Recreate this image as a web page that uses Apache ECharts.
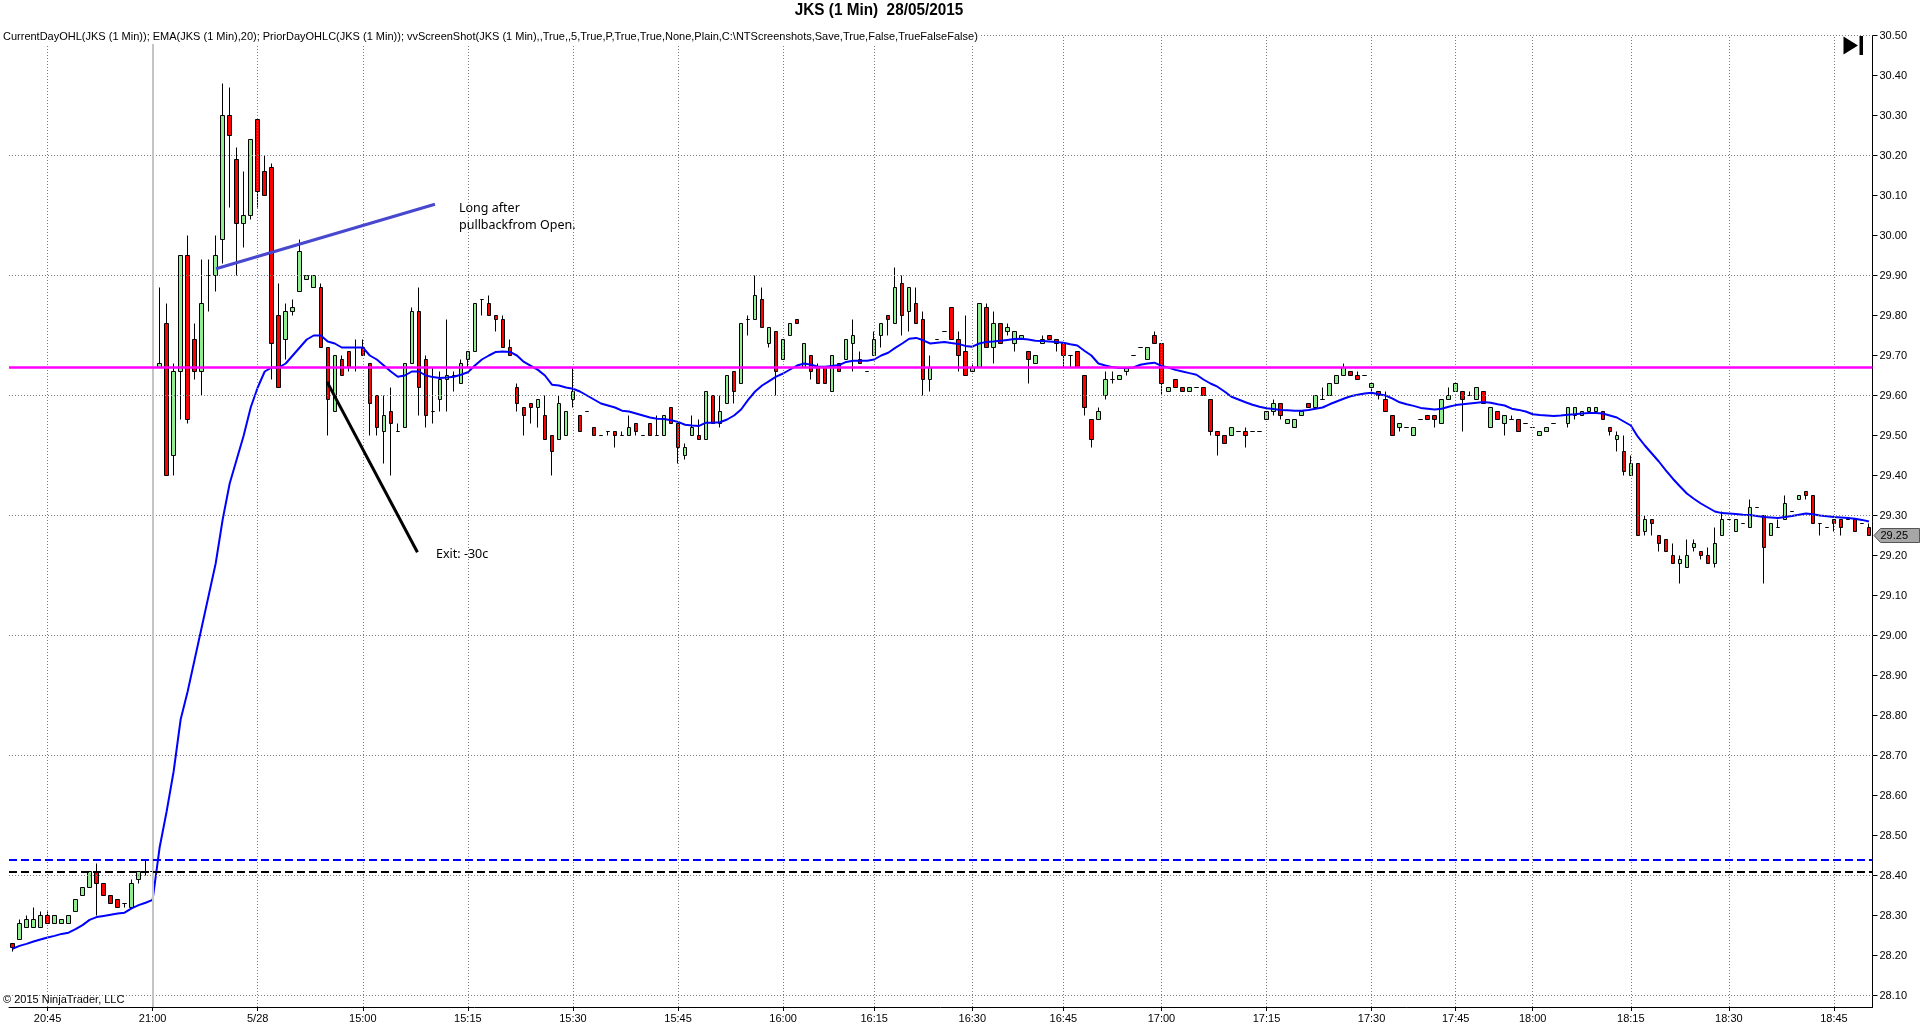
<!DOCTYPE html>
<html><head><meta charset="utf-8">
<script src="https://cdn.jsdelivr.net/npm/echarts@6/dist/echarts.min.js"></script>
<style>html,body{margin:0;padding:0;background:#fff;overflow:hidden}#c{width:1920px;height:1034px}</style>
</head><body><div id="c"></div>
<script>
// ---- categories (one per 1-minute bar) ----
const times = ("20:40 20:41 20:42 20:43 20:44 20:45 20:46 20:47 20:48 20:49 20:50 20:51 20:52 20:53 20:54 20:55 20:56 20:57 20:58 20:59 21:00 " +
"14:31 14:32 14:33 14:34 14:35 14:36 14:37 14:38 14:39 14:40 14:41 14:42 14:43 14:44 14:45 14:46 14:47 14:48 14:49 14:50 14:51 14:52 14:53 14:54 14:55 14:56 14:57 14:58 14:59 " +
"15:00 15:01 15:02 15:03 15:04 15:05 15:06 15:07 15:08 15:09 15:10 15:11 15:12 15:13 15:14 15:15 15:16 15:17 15:18 15:19 15:20 15:21 15:22 15:23 15:24 15:25 15:26 15:27 15:28 15:29 " +
"15:30 15:31 15:32 15:33 15:34 15:35 15:36 15:37 15:38 15:39 15:40 15:41 15:42 15:43 15:44 15:45 15:46 15:47 15:48 15:49 15:50 15:51 15:52 15:53 15:54 15:55 15:56 15:57 15:58 15:59 " +
"16:00 16:01 16:02 16:03 16:05 16:06 16:07 16:08 16:09 16:11 16:12 16:13 16:14 " +
"16:15 16:16 16:17 16:18 16:19 16:20 16:21 16:23 16:24 16:25 16:26 16:27 16:28 16:29 " +
"16:30 16:31 16:32 16:33 16:34 16:36 16:37 16:38 16:39 16:40 16:42 16:43 16:44 " +
"16:45 16:46 16:47 16:48 16:49 16:50 16:51 16:52 16:54 16:55 16:56 16:57 16:58 16:59 " +
"17:00 17:01 17:02 17:03 17:04 17:05 17:06 17:07 17:08 17:09 17:10 17:11 17:12 17:13 17:14 " +
"17:15 17:16 17:17 17:18 17:19 17:20 17:21 17:22 17:23 17:24 17:25 17:26 17:27 17:28 17:29 " +
"17:30 17:31 17:32 17:33 17:35 17:36 17:37 17:39 17:40 17:41 17:43 17:44 " +
"17:45 17:46 17:47 17:49 17:50 17:52 17:53 17:54 17:56 17:58 17:59 " +
"18:00 18:01 18:02 18:03 18:04 18:05 18:06 18:08 18:09 18:10 18:11 18:12 18:13 18:14 " +
"18:15 18:16 18:17 18:18 18:19 18:20 18:21 18:22 18:24 18:25 18:26 18:27 18:28 18:29 " +
"18:30 18:31 18:32 18:33 18:34 18:35 18:36 18:37 18:38 18:39 18:40 18:41 18:42 18:43 18:44 " +
"18:45 18:46 18:47 18:48 18:49 18:50").split(' ');

// ---- OHLC ----
const opens = [
28.23,28.24,28.27,28.27,28.27,28.30,28.28,28.28,28.28,28.31,
28.35,28.37,28.41,28.38,28.35,28.34,28.33,28.32,28.39,28.41,
28.41,29.67,29.78,29.45,29.66,29.95,29.74,29.66,29.90,29.90,
29.99,30.30,30.19,30.03,30.05,30.29,30.16,30.17,29.80,29.74,
29.81,29.86,29.89,29.87,29.87,29.72,29.56,29.69,29.71,29.72,
29.72,29.68,29.60,29.51,29.56,29.51,29.52,29.68,29.81,29.69,
29.56,29.59,29.64,29.65,29.63,29.69,29.71,29.84,29.83,29.80,
29.79,29.72,29.62,29.57,29.58,29.57,29.55,29.50,29.49,29.50,
29.59,29.55,29.56,29.52,29.50,29.51,29.51,29.50,29.50,29.53,
29.50,29.53,29.50,29.50,29.57,29.53,29.45,29.50,29.50,29.49,
29.60,29.53,29.58,29.66,29.63,29.79,29.79,29.84,29.73,29.76,
29.69,29.75,29.79,29.67,29.70,29.67,29.67,29.61,29.68,29.69,
29.73,29.69,29.66,29.70,29.75,29.80,29.78,29.88,29.81,29.83,
29.79,29.64,29.74,29.76,29.82,29.74,29.71,29.66,29.67,29.82,
29.72,29.78,29.76,29.73,29.74,29.71,29.68,29.73,29.75,29.74,
29.73,29.70,29.71,29.65,29.54,29.54,29.60,29.64,29.64,29.66,
29.70,29.72,29.69,29.75,29.73,29.61,29.64,29.62,29.61,29.62,
29.62,29.59,29.51,29.50,29.50,29.51,29.51,29.51,29.51,29.54,
29.56,29.58,29.53,29.52,29.55,29.58,29.57,29.59,29.60,29.63,
29.65,29.66,29.65,29.65,29.62,29.61,29.59,29.55,29.52,29.52,
29.50,29.54,29.55,29.55,29.53,29.59,29.61,29.61,29.60,29.59,
29.61,29.52,29.56,29.53,29.54,29.54,29.53,29.52,29.50,29.51,
29.53,29.55,29.53,29.55,29.55,29.56,29.56,29.56,29.52,29.49,
29.46,29.40,29.43,29.26,29.29,29.25,29.24,29.20,29.18,29.17,
29.22,29.21,29.20,29.18,29.25,29.29,29.26,29.28,29.27,29.32,
29.30,29.25,29.27,29.29,29.31,29.34,29.36,29.35,29.28,29.27,
29.29,29.29,29.29,29.29,29.28,29.27];
const highs = [
28.23,28.29,28.30,28.32,28.31,28.31,28.30,28.29,28.30,28.34,
28.37,28.41,28.43,28.38,28.35,28.34,28.33,28.39,28.41,28.44,
28.42,29.87,29.83,29.68,29.95,30.00,29.78,29.94,29.94,30.00,
30.38,30.37,30.22,30.16,30.24,30.29,30.20,30.18,29.88,29.83,
29.84,29.99,29.90,29.90,29.88,29.72,29.70,29.70,29.71,29.74,
29.74,29.68,29.60,29.60,29.62,29.53,29.68,29.82,29.87,29.70,
29.67,29.66,29.79,29.66,29.69,29.71,29.83,29.84,29.85,29.80,
29.80,29.74,29.63,29.57,29.58,29.59,29.60,29.50,29.60,29.56,
29.67,29.55,29.56,29.52,29.50,29.51,29.51,29.51,29.55,29.53,
29.50,29.53,29.55,29.55,29.57,29.53,29.48,29.55,29.54,29.61,
29.60,29.60,29.65,29.66,29.78,29.80,29.90,29.87,29.77,29.76,
29.74,29.78,29.79,29.73,29.70,29.68,29.67,29.70,29.68,29.74,
29.79,29.71,29.66,29.76,29.78,29.80,29.92,29.90,29.87,29.87,
29.81,29.70,29.74,29.76,29.82,29.76,29.80,29.68,29.83,29.83,
29.81,29.78,29.78,29.76,29.75,29.71,29.70,29.75,29.75,29.74,
29.73,29.70,29.71,29.65,29.54,29.57,29.66,29.66,29.65,29.67,
29.70,29.72,29.72,29.76,29.73,29.62,29.64,29.62,29.62,29.62,
29.62,29.59,29.51,29.50,29.52,29.51,29.52,29.51,29.51,29.56,
29.59,29.58,29.54,29.54,29.56,29.58,29.60,29.62,29.63,29.65,
29.68,29.66,29.66,29.65,29.63,29.61,29.61,29.55,29.53,29.52,
29.52,29.54,29.55,29.55,29.59,29.62,29.63,29.61,29.61,29.62,
29.61,29.57,29.56,29.55,29.55,29.54,29.53,29.52,29.51,29.52,
29.53,29.55,29.57,29.57,29.56,29.57,29.57,29.56,29.52,29.51,
29.50,29.45,29.43,29.30,29.29,29.25,29.24,29.23,29.20,29.24,
29.24,29.21,29.22,29.27,29.31,29.29,29.29,29.28,29.34,29.32,
29.30,29.28,29.29,29.35,29.31,29.35,29.36,29.35,29.28,29.27,
29.29,29.29,29.29,29.29,29.28,29.28];
const lows = [
28.21,28.24,28.27,28.27,28.27,28.28,28.28,28.28,28.28,28.31,
28.35,28.37,28.30,28.35,28.33,28.32,28.32,28.32,28.38,28.40,
28.40,29.67,29.40,29.40,29.54,29.53,29.64,29.60,29.81,29.86,
29.93,30.07,29.90,29.97,30.04,30.07,30.10,29.64,29.62,29.69,
29.80,29.86,29.89,29.87,29.72,29.50,29.56,29.65,29.66,29.66,
29.70,29.50,29.50,29.43,29.40,29.51,29.52,29.68,29.55,29.52,
29.53,29.56,29.56,29.61,29.63,29.67,29.71,29.80,29.80,29.76,
29.72,29.70,29.56,29.50,29.53,29.52,29.49,29.40,29.49,29.50,
29.57,29.51,29.56,29.50,29.50,29.50,29.47,29.50,29.50,29.50,
29.50,29.50,29.50,29.50,29.53,29.43,29.44,29.50,29.49,29.49,
29.53,29.52,29.58,29.58,29.63,29.75,29.79,29.77,29.72,29.60,
29.69,29.75,29.78,29.67,29.64,29.63,29.63,29.61,29.66,29.69,
29.66,29.68,29.66,29.70,29.72,29.75,29.78,29.75,29.76,29.78,
29.60,29.61,29.74,29.76,29.74,29.66,29.65,29.66,29.67,29.72,
29.68,29.73,29.75,29.71,29.74,29.63,29.68,29.73,29.74,29.71,
29.67,29.67,29.67,29.55,29.47,29.54,29.59,29.63,29.64,29.65,
29.70,29.72,29.69,29.73,29.60,29.61,29.62,29.61,29.61,29.62,
29.60,29.50,29.45,29.48,29.50,29.51,29.47,29.51,29.51,29.54,
29.55,29.54,29.53,29.52,29.55,29.57,29.57,29.59,29.60,29.63,
29.65,29.65,29.64,29.65,29.61,29.59,29.56,29.50,29.51,29.52,
29.50,29.54,29.54,29.52,29.53,29.59,29.61,29.51,29.60,29.59,
29.58,29.52,29.54,29.50,29.54,29.51,29.53,29.52,29.50,29.51,
29.53,29.55,29.52,29.54,29.55,29.56,29.56,29.54,29.50,29.46,
29.40,29.40,29.25,29.25,29.25,29.21,29.21,29.18,29.13,29.17,
29.21,29.19,29.18,29.17,29.25,29.29,29.26,29.28,29.27,29.32,
29.13,29.25,29.27,29.29,29.31,29.34,29.34,29.28,29.25,29.27,
29.26,29.25,29.29,29.26,29.28,29.25];
const closes = [
28.22,28.28,28.29,28.29,28.30,28.28,28.30,28.29,28.30,28.34,
28.37,28.41,28.38,28.35,28.33,28.32,28.33,28.38,28.41,28.41,
28.41,29.68,29.40,29.66,29.95,29.54,29.66,29.83,29.90,29.95,
30.30,30.25,30.03,30.05,30.24,30.11,30.10,29.73,29.62,29.81,
29.82,29.96,29.90,29.90,29.72,29.59,29.70,29.65,29.67,29.72,
29.70,29.58,29.52,29.55,29.53,29.51,29.68,29.81,29.62,29.55,
29.56,29.64,29.65,29.65,29.68,29.71,29.83,29.84,29.80,29.79,
29.72,29.70,29.58,29.55,29.57,29.59,29.49,29.46,29.58,29.56,
29.61,29.51,29.56,29.50,29.50,29.51,29.50,29.50,29.52,29.51,
29.50,29.50,29.50,29.55,29.53,29.47,29.47,29.52,29.49,29.61,
29.53,29.56,29.65,29.61,29.78,29.79,29.85,29.77,29.77,29.66,
29.74,29.78,29.78,29.73,29.66,29.63,29.63,29.70,29.66,29.74,
29.75,29.68,29.66,29.74,29.78,29.79,29.87,29.80,29.87,29.78,
29.64,29.67,29.74,29.76,29.74,29.70,29.65,29.67,29.83,29.72,
29.78,29.73,29.77,29.76,29.75,29.69,29.70,29.74,29.74,29.73,
29.70,29.70,29.67,29.57,29.49,29.56,29.64,29.64,29.65,29.67,
29.70,29.72,29.72,29.73,29.63,29.62,29.62,29.61,29.62,29.62,
29.60,29.51,29.50,29.48,29.52,29.51,29.50,29.51,29.51,29.56,
29.58,29.55,29.54,29.54,29.56,29.57,29.60,29.59,29.63,29.65,
29.67,29.65,29.64,29.65,29.63,29.60,29.56,29.50,29.53,29.52,
29.52,29.54,29.54,29.54,29.59,29.60,29.63,29.59,29.60,29.62,
29.58,29.57,29.54,29.55,29.54,29.51,29.53,29.52,29.51,29.52,
29.53,29.55,29.57,29.57,29.56,29.57,29.57,29.54,29.51,29.50,
29.41,29.43,29.25,29.29,29.28,29.23,29.21,29.18,29.19,29.20,
29.23,29.20,29.18,29.23,29.29,29.29,29.29,29.28,29.32,29.32,
29.22,29.28,29.27,29.33,29.31,29.35,29.35,29.28,29.28,29.27,
29.28,29.27,29.29,29.26,29.28,29.25];

// ---- EMA(20) ----
const ema20 = [
28.217,28.224,28.229,28.235,28.240,28.245,28.249,28.254,28.257,28.266,
28.276,28.289,28.296,28.299,28.302,28.305,28.307,28.318,28.326,28.332,
28.339,28.47,28.56,28.66,28.79,28.86,28.94,29.02,29.10,29.18,
29.29,29.38,29.44,29.50,29.57,29.62,29.66,29.67,29.67,29.68,
29.70,29.72,29.74,29.75,29.75,29.735,29.73,29.72,29.72,29.72,
29.72,29.70,29.69,29.675,29.66,29.647,29.65,29.66,29.66,29.65,
29.646,29.644,29.645,29.647,29.652,29.658,29.675,29.69,29.70,29.709,
29.71,29.709,29.70,29.684,29.674,29.664,29.65,29.627,29.625,29.62,
29.617,29.61,29.60,29.59,29.58,29.575,29.57,29.562,29.56,29.555,
29.55,29.545,29.542,29.541,29.538,29.534,29.527,29.525,29.524,29.532,
29.532,29.533,29.54,29.55,29.565,29.589,29.61,29.625,29.636,29.647,
29.655,29.665,29.675,29.680,29.677,29.672,29.672,29.674,29.676,29.684,
29.687,29.687,29.687,29.69,29.70,29.707,29.719,29.73,29.742,29.744,
29.738,29.73,29.732,29.734,29.731,29.729,29.724,29.722,29.73,29.734,
29.735,29.737,29.739,29.741,29.742,29.740,29.737,29.736,29.735,29.734,
29.732,29.728,29.725,29.712,29.70,29.68,29.675,29.671,29.669,29.669,
29.67,29.677,29.68,29.682,29.674,29.670,29.664,29.66,29.656,29.652,
29.64,29.63,29.622,29.61,29.597,29.59,29.583,29.577,29.572,29.568,
29.566,29.564,29.563,29.562,29.562,29.564,29.567,29.57,29.578,29.585,
29.592,29.598,29.602,29.605,29.607,29.603,29.60,29.592,29.583,29.578,
29.574,29.569,29.567,29.565,29.567,29.572,29.576,29.578,29.58,29.582,
29.584,29.582,29.578,29.575,29.567,29.564,29.56,29.553,29.551,29.550,
29.549,29.55,29.552,29.553,29.555,29.556,29.556,29.555,29.55,29.545,
29.535,29.525,29.497,29.475,29.455,29.435,29.413,29.392,29.373,29.355,
29.342,29.33,29.32,29.31,29.306,29.305,29.304,29.302,29.301,29.299,
29.296,29.295,29.294,29.296,29.299,29.302,29.305,29.303,29.30,29.298,
29.296,29.295,29.294,29.292,29.289,29.285];

// ---- axis ticks / reference levels ----
const tickTimes = ['20:45','21:00','14:45','15:00','15:15','15:30','15:45','16:00','16:15','16:30','16:45','17:00','17:15','17:30','17:45','18:00','18:15','18:30','18:45'];
const tickTexts = ['20:45','21:00','5/28','15:00','15:15','15:30','15:45','16:00','16:15','16:30','16:45','17:00','17:15','17:30','17:45','18:00','18:15','18:30','18:45'];
const gridPrices = [28.1,28.4,28.7,29.0,29.3,29.6,29.9,30.2,30.5];
const sessionBreak = '21:00';
const currentDayOpen = 29.67;
const priorDayHigh = 28.44;
const priorDayClose = 28.41;
const yMin = 28.07125, yMax = 30.50;
// drawn annotations: [bar position, price]
const longLine = [[29.05, 29.917],[60.3, 30.078]];
const exitLine = [[44.9, 29.634],[57.8, 29.208]];

const headerText = 'CurrentDayOHL(JKS (1 Min)); EMA(JKS (1 Min),20); PriorDayOHLC(JKS (1 Min)); vvScreenShot(JKS (1 Min),,True,,5,True,P,True,True,None,Plain,C:\\NTScreenshots,Save,True,False,TrueFalseFalse)';

const FONT = '"Liberation Sans", Arial, Helvetica, sans-serif';
const tickIdx = new Set(tickTimes.map(t => times.indexOf(t)));
const tickFn = (i) => tickIdx.has(i);
const labelMap = {}; tickTimes.forEach((t, k) => labelMap[t] = tickTexts[k]);
const candle = opens.map((o, i) => [o, closes[i], lows[i], highs[i]]);

const chart = echarts.init(document.getElementById('c'), null, {renderer: 'canvas'});
const noLabel = {show: false};
chart.setOption({
  animation: false,
  backgroundColor: '#ffffff',
  grid: {left: 9, right: 47.5, top: 35.5, bottom: 27, containLabel: false},
  xAxis: [{
    type: 'category', data: times, boundaryGap: true,
    axisLine: {show: true, onZero: false, lineStyle: {color: '#000', width: 1}},
    axisTick: {show: true, interval: tickFn, alignWithLabel: true, length: 4, lineStyle: {color: '#000'}},
    axisLabel: {interval: tickFn, formatter: v => labelMap[v] || '', color: '#000', fontSize: 11, fontFamily: FONT, margin: 6},
    splitLine: {show: false}
  }, {
    type: 'value', min: -0.5, max: times.length - 0.5, show: false,
    axisLine: {show: false, onZero: false}, axisTick: {show: false}, axisLabel: {show: false}, splitLine: {show: false}
  }],
  yAxis: {
    type: 'value', position: 'right', min: yMin, max: yMax, splitNumber: 24,
    minInterval: 0.1, maxInterval: 0.1,
    axisLine: {show: true, onZero: false, lineStyle: {color: '#000', width: 1}},
    axisTick: {show: true, length: 5, lineStyle: {color: '#000'}},
    axisLabel: {showMinLabel: false, color: '#000', fontSize: 11, fontFamily: FONT, margin: 7,
      formatter: v => Number(v).toFixed(2)},
    splitLine: {show: false}
  },
  series: [
    { // grid
      type: 'line', data: [], z: 1, silent: true,
      markLine: {
        silent: true, symbol: ['none', 'none'], label: noLabel, animation: false,
        emphasis: {disabled: true},
        lineStyle: {color: '#7d7d7d', type: [1, 2], width: 1},
        data: gridPrices.map(p => ({yAxis: p}))
          .concat(tickTimes.filter(t => t !== sessionBreak).map(t => ({xAxis: t})))
          .concat([{xAxis: sessionBreak, lineStyle: {color: '#c4c4c4', type: 'solid', width: 2}}])
      }
    },
    {
      type: 'candlestick', data: candle, z: 2, barWidth: 4,
      itemStyle: {color: '#90EE90', color0: '#FF0000', borderColor: '#000', borderColor0: '#000', borderColorDoji: '#000', borderWidth: 1},
      emphasis: {disabled: true}
    },
    {
      type: 'line', name: 'EMA', data: ema20, z: 4, symbol: 'none', showSymbol: false,
      lineStyle: {color: '#0000FF', width: 2}, emphasis: {disabled: true}
    },
    { // price levels
      type: 'line', data: [], z: 5, silent: true,
      markLine: {
        silent: true, symbol: ['none', 'none'], label: noLabel, animation: false,
        emphasis: {disabled: true},
        data: [
          {yAxis: currentDayOpen, lineStyle: {color: '#FF00FF', type: 'solid', width: 2.5}},
          {yAxis: priorDayHigh, lineStyle: {color: '#0000FF', type: [8, 4], width: 2}},
          {yAxis: priorDayClose, lineStyle: {color: '#000000', type: [8, 4], width: 2}}
        ]
      }
    },
    {
      type: 'line', xAxisIndex: 1, data: longLine, z: 6, symbol: 'none',
      lineStyle: {color: '#4747CF', width: 3}, emphasis: {disabled: true}
    },
    {
      type: 'line', xAxisIndex: 1, data: exitLine, z: 6, symbol: 'none',
      lineStyle: {color: '#000000', width: 3}, emphasis: {disabled: true}
    }
  ]
});

const lastClose = closes[closes.length - 1];
const py = chart.convertToPixel({yAxisIndex: 0}, lastClose);
const axX = 1920 - 47.5;
chart.setOption({
  graphic: [
    {type: 'text', x: 879, y: 10, scaleX: 0.9, z: 100,
      style: {text: 'JKS (1 Min)  28/05/2015', fill: '#000', font: 'bold 17px ' + FONT, align: 'center', verticalAlign: 'middle'}},
    {type: 'text', x: 2, y: 36.5, z: 100,
      style: {text: headerText, fill: '#000', font: '11px ' + FONT, align: 'left', verticalAlign: 'middle', backgroundColor: '#fff', padding: [2, 1, 2, 1]}},
    {type: 'text', x: 3, y: 1000, z: 100,
      style: {text: '\u00A9 2015 NinjaTrader, LLC', fill: '#000', font: '11px ' + FONT, align: 'left', verticalAlign: 'middle'}},
    {type: 'text', x: 459, y: 200, z: 100,
      style: {text: 'Long after\npullbackfrom Open.', fill: '#000', font: '12.5px "Noto Sans", "Open Sans", sans-serif', lineHeight: 17, align: 'left', verticalAlign: 'top'}},
    {type: 'text', x: 436, y: 548, z: 100,
      style: {text: 'Exit: -30c', fill: '#000', font: '12.5px "Noto Sans", "Open Sans", sans-serif', align: 'left', verticalAlign: 'top'}},
    {type: 'polygon', z: 100,
      shape: {points: [[1843.5, 36.5], [1858, 45.5], [1843.5, 54.5]]}, style: {fill: '#000'}},
    {type: 'rect', z: 100, shape: {x: 1859.5, y: 36, width: 3.5, height: 19}, style: {fill: '#000'}},
    {type: 'polygon', z: 100,
      shape: {points: [[axX + 1.5, py], [axX + 8, py - 7], [1919.5, py - 7], [1919.5, py + 7], [axX + 8, py + 7]]},
      style: {fill: '#a6a6a6', stroke: '#555', lineWidth: 1}},
    {type: 'text', x: axX + 8, y: py + 0.5, z: 101,
      style: {text: lastClose.toFixed(2), fill: '#000', font: '11px ' + FONT, align: 'left', verticalAlign: 'middle'}}
  ]
});
</script>
</body></html>
